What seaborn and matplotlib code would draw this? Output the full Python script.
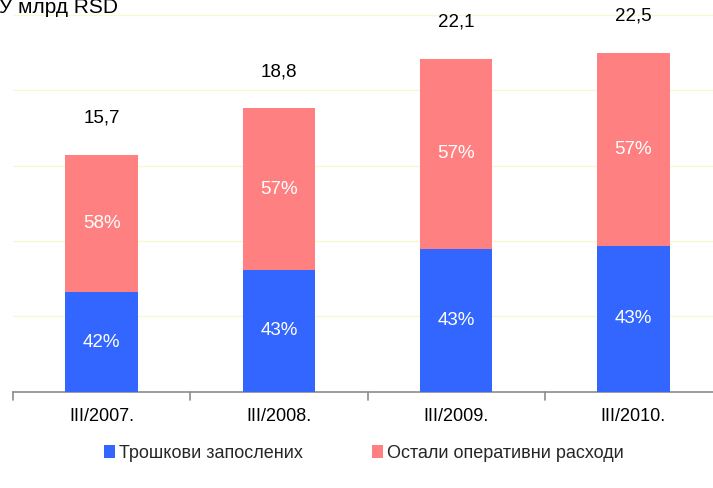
import matplotlib
matplotlib.use("Agg")
import matplotlib.pyplot as plt
import seaborn as sns
import pandas as pd
from matplotlib.patches import Patch

categories = ["III/2007.", "III/2008.", "III/2009.", "III/2010."]
totals = [15.7, 18.8, 22.1, 22.5]
staff_pct = [42, 43, 43, 43]
other_pct = [58, 57, 57, 57]
series_names = ["Трошкови запослених", "Остали оперативни расходи"]
title = "У млрд RSD"

blue = "#3366FF"
pink = "#FF8080"

sns.set_theme(style="white")
plt.rcParams["font.family"] = ["Liberation Sans", "DejaVu Sans"]

staff_vals = [t * p / 100 for t, p in zip(totals, staff_pct)]
df = pd.DataFrame({"cat": categories, "total": totals, "staff": staff_vals})

fig = plt.figure(figsize=(7.13, 4.88), dpi=100)
ax = fig.add_axes([13 / 713, (488 - 391.7) / 488, 709 / 713, (391.7 - 15) / 488])

sns.barplot(data=df, x="cat", y="total", color=pink, width=0.41, ax=ax,
            saturation=1, edgecolor="none", zorder=3)
sns.barplot(data=df, x="cat", y="staff", color=blue, width=0.41, ax=ax,
            saturation=1, edgecolor="none", zorder=3)

ax.set_ylim(0, 25)
ax.set_xlim(-0.5, 3.5)
for g in [5, 10, 15, 20, 25]:
    ax.axhline(g, color="#F8F8D0", lw=0.9, zorder=1, clip_on=False)

for i, (t, s, ps, po) in enumerate(zip(totals, staff_vals, staff_pct, other_pct)):
    ax.text(i, s / 2, f"{ps}%", ha="center", va="center", color="white", fontsize=13.5, zorder=4)
    ax.text(i, s + (t - s) / 2, f"{po}%", ha="center", va="center", color="white", fontsize=13.5, zorder=4)
    ax.text(i, t + 2.45, f"{t:.1f}".replace(".", ","), ha="center", va="center",
            color="black", fontsize=13.5, zorder=4)

for sp in ["top", "right", "left"]:
    ax.spines[sp].set_visible(False)
ax.spines["bottom"].set_color("#8C8C8C")
ax.spines["bottom"].set_linewidth(1.2)
ax.set_yticks([])
ax.set_xlabel("")
ax.set_ylabel("")
ax.set_xticks([0, 1, 2, 3])
ax.set_xticklabels(categories, fontsize=13, color="black")
ax.tick_params(axis="x", length=0, pad=12)
for b in [-0.5, 0.5, 1.5, 2.5, 3.5]:
    ax.plot([b, b], [0, -0.55], color="#8C8C8C", lw=1.2, clip_on=False, zorder=2)

fig.text(-1 / 713, 1 - 13 / 488, title, fontsize=15, ha="left", va="baseline", color="black")

handles = [Patch(facecolor=blue, edgecolor="none"), Patch(facecolor=pink, edgecolor="none")]
fig.legend(handles, series_names, loc="center", bbox_to_anchor=(364 / 713, 1 - 453 / 488),
           ncol=2, frameon=False, fontsize=13, handlelength=0.6, handleheight=0.7,
           handletextpad=0.25, columnspacing=3.8)

fig.savefig("out.png", dpi=100)
